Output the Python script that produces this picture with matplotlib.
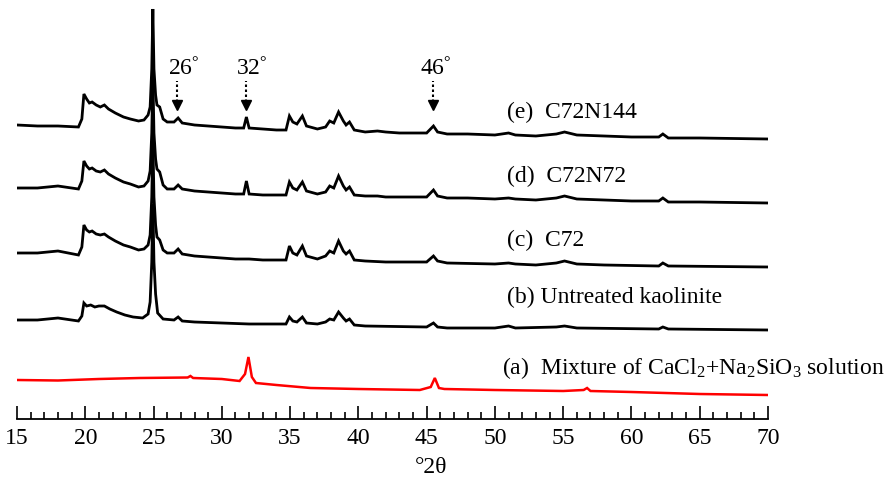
import numpy as np
import matplotlib.pyplot as plt

plt.rcParams['font.family'] = ['Liberation Serif', 'DejaVu Serif']
plt.rcParams['mathtext.fontset'] = 'custom'
plt.rcParams['mathtext.rm'] = 'Liberation Serif'
plt.rcParams['mathtext.it'] = 'Liberation Serif:italic'

# (e) C72N144
tt_e = [15.0, 16.5, 18.0, 19.5, 19.75, 19.9, 20.1, 20.3, 20.5, 20.8, 21.1, 21.4, 21.7, 22.2, 22.8,
        23.3, 23.9, 24.3, 24.6, 24.75, 24.87, 24.95, 25.03, 25.15, 25.25, 25.45, 25.7, 26.0, 26.5,
        26.8, 27.1, 28.0, 29.0, 30.0, 31.0, 31.6, 31.8, 32.0, 33.0, 34.0, 34.7, 34.95, 35.2, 35.5,
        35.9, 36.2, 37.0, 37.6, 37.9, 38.2, 38.55, 38.9, 39.1, 39.35, 39.7, 40.5, 41.4, 42.0, 43.0,
        44.0, 45.0, 45.5, 45.8, 46.5, 48.0, 50.0, 51.0, 51.5, 53.0, 54.5, 55.1, 56.0, 58.0, 60.0,
        62.0, 62.3, 62.7, 65.0, 70.0]
int_e = [14, 13, 13, 12, 20, 45, 40, 36, 37, 34, 32, 34, 30, 26, 22,
         20, 18, 19, 24, 32, 70, 130, 70, 44, 34, 32, 20, 17, 17,
         21, 16, 14, 13, 12, 11, 11, 22, 11, 10, 9, 9, 23, 17, 15,
         23, 13, 10, 12, 18, 16, 27, 18, 14, 17, 9, 7, 8, 7, 6,
         6, 6, 13, 7, 5, 5, 4, 6, 4, 3, 5, 7, 4, 3, 2,
         2, 5, 1, 1, 0]

# (d) C72N72
tt_d = [15.0, 16.5, 18.0, 19.5, 19.75, 19.9, 20.1, 20.3, 20.5, 20.8, 21.1, 21.4, 21.7, 22.2, 22.8,
        23.3, 23.9, 24.3, 24.6, 24.75, 24.87, 24.95, 25.03, 25.15, 25.25, 25.45, 25.7, 26.0, 26.5,
        26.8, 27.1, 28.0, 29.0, 30.0, 31.0, 31.6, 31.8, 32.0, 33.0, 34.0, 34.7, 34.95, 35.2, 35.5,
        35.9, 36.2, 37.0, 37.6, 37.9, 38.2, 38.55, 38.9, 39.1, 39.35, 39.7, 40.5, 41.4, 42.0, 43.0,
        44.0, 45.0, 45.5, 45.8, 46.5, 48.0, 50.0, 51.0, 51.5, 53.0, 54.5, 55.1, 56.0, 58.0, 60.0,
        62.0, 62.3, 62.7, 65.0, 70.0]
int_d = [15, 15, 17, 14, 22, 42, 37, 34, 35, 32, 31, 33, 29, 25, 21,
         19, 16, 17, 22, 32, 70, 128, 70, 44, 34, 31, 18, 14, 14,
         18, 14, 12, 11, 10, 9, 9, 22, 9, 8, 8, 8, 21, 15, 13,
         21, 12, 9, 11, 17, 15, 27, 17, 13, 16, 8, 7, 7, 6, 6,
         6, 6, 13, 7, 5, 5, 4, 5, 4, 3, 5, 7, 4, 3, 2,
         2, 5, 1, 1, 0]

# (c) C72
tt_c = [15.0, 16.5, 18.0, 19.5, 19.75, 19.9, 20.1, 20.3, 20.5, 20.8, 21.1, 21.4, 21.7, 22.2, 22.8,
        23.3, 23.9, 24.3, 24.6, 24.75, 24.87, 24.95, 25.03, 25.15, 25.25, 25.45, 25.7, 26.0, 26.5,
        26.8, 27.1, 28.0, 29.0, 30.0, 31.0, 32.0, 33.0, 34.0, 34.7, 34.95, 35.2, 35.5,
        35.9, 36.2, 37.0, 37.6, 37.9, 38.2, 38.55, 38.9, 39.1, 39.35, 39.7, 40.5, 42.0,
        45.0, 45.5, 45.8, 46.5, 50.0, 51.0, 51.5, 53.0, 54.5, 55.1, 56.0, 58.0,
        62.0, 62.3, 62.7, 70.0]
int_c = [14, 14, 16, 12, 20, 42, 37, 35, 36, 33, 32, 33, 30, 26, 22,
         20, 17, 18, 22, 32, 70, 128, 70, 42, 30, 27, 17, 14, 14,
         18, 13, 11, 10, 9, 8, 8, 7, 7, 7, 21, 14, 12,
         21, 11, 8, 11, 16, 14, 26, 16, 13, 16, 7, 6, 5,
         5, 11, 6, 4, 3, 4, 3, 2, 4, 6, 3, 2,
         1, 4, 1, 0]

# (b) untreated kaolinite
tt_b = [15.0, 16.5, 18.0, 19.5, 19.75, 19.9, 20.1, 20.4, 20.7, 21.0, 21.4, 21.8, 22.3, 22.9,
        23.5, 24.2, 24.6, 24.75, 24.87, 24.95, 25.03, 25.15, 25.3, 25.7, 26.5,
        26.8, 27.1, 28.0, 30.0, 32.0, 34.0, 34.7, 34.95, 35.2, 35.5,
        35.9, 36.2, 37.0, 37.6, 37.9, 38.2, 38.55, 38.9, 39.1, 39.35, 39.7, 40.5,
        45.0, 45.5, 45.8, 46.5, 50.0, 51.0, 51.5, 54.5, 55.1, 56.0,
        62.0, 62.3, 62.7, 70.0]
int_b = [10, 10, 12, 9, 14, 27, 24, 25, 23, 24, 24, 21, 18, 15,
         13, 12, 16, 28, 68, 126, 68, 36, 17, 11, 10,
         13, 9, 8, 7, 6, 6, 6, 13, 9, 8,
         13, 7, 6, 8, 11, 10, 18, 12, 9, 11, 5, 4,
         3, 7, 3, 2, 2, 4, 2, 3, 4, 2,
         1, 3, 1, 0]

# (a) CaCl2 + Na2SiO3 mixture
tt_a = [15.0, 18.0, 21.0, 24.0, 27.5, 27.7, 27.9, 30.0, 31.3, 31.7, 31.95, 32.2, 32.5, 34.0,
        36.5, 40.0, 44.5, 45.3, 45.6, 45.9, 46.3, 50.0, 55.0, 56.5, 56.75, 57.0, 60.0, 65.0, 70.0]
int_a = [15, 14.5, 16, 17, 17.5, 19, 17, 16, 14, 21, 38, 18, 12, 10,
         7, 6, 5, 8, 17, 7, 6, 5, 4, 5, 7, 4, 3, 1, 0]

offsets = [280, 216, 152, 89, 24]
labels = ['(e)  C72N144', '(d)  C72N72', '(c)  C72', '(b) Untreated kaolinite',
          '(a)  Mixture of CaCl$_2$+Na$_2$SiO$_3$ solution']
label_x = [50.88, 50.88, 50.88, 50.88, 50.55]
label_y = [308, 244, 180, 123, 52]

marks = [26, 32, 46]
mark_x = [26.72, 31.77, 45.47]
mark_text_x = [26.04, 31.02, 44.53]

fig = plt.figure(figsize=(8.94, 4.81), dpi=100)
ax = fig.add_axes([17 / 894, 61 / 481, 751 / 894, 420 / 481])

traces = [(tt_e, int_e), (tt_d, int_d), (tt_c, int_c), (tt_b, int_b), (tt_a, int_a)]
for i, (tt, inten) in enumerate(traces):
    col = 'red' if i == 4 else 'black'
    ax.plot(tt, np.array(inten) + offsets[i], color=col, lw=2.0 if i < 4 else 1.8,
            solid_joinstyle='miter')
    ax.text(label_x[i], label_y[i], labels[i], fontsize=17, va='center', ha='left')

for m, x, tx in zip(marks, mark_x, mark_text_x):
    ax.plot([x, x], [317, 338], color='black', lw=1.5, ls=(0, (1.2, 1.2)))
    ax.plot(x, 314, marker='v', color='black', ms=7)
    ax.text(tx, 351, f'{m}$^{{°}}$', fontsize=17, ha='left', va='center')

ax.set_xlim(15, 70)
ax.set_ylim(0, 420)
ax.set_xticks(np.arange(15, 71, 5))
ax.set_xticks(np.arange(15, 71, 1), minor=True)
ax.tick_params(axis='x', which='major', direction='in', length=9.5, width=1.2, labelsize=17, pad=6)
ax.tick_params(axis='x', which='minor', direction='in', length=5, width=1.2)
ax.set_yticks([])
for s in ['top', 'left', 'right']:
    ax.spines[s].set_visible(False)
ax.spines['bottom'].set_linewidth(1.3)
ax.patch.set_alpha(0)

ax.text(45.3, -48, '°2θ', fontsize=17, ha='center', va='center', clip_on=False)

plt.savefig('out.png')
